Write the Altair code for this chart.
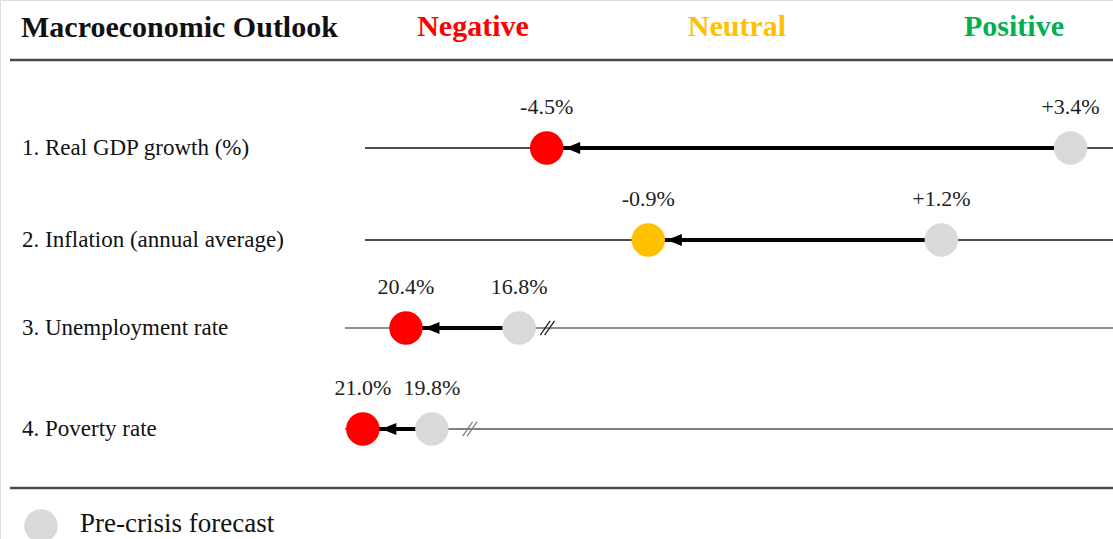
import altair as alt
import pandas as pd

# Indicators and forecasts (pre-crisis vs. current)
indicators = [
    "1. Real GDP growth (%)",
    "2. Inflation (annual  average)",
    "3. Unemployment  rate",
    "4. Poverty rate",
]
pre_crisis = [3.4, 1.2, 16.8, 19.8]
current = [-4.5, -0.9, 20.4, 21.0]
pre_text = ["+3.4%", "+1.2%", "16.8%", "19.8%"]
current_text = ["-4.5%", "-0.9%", "20.4%", "21.0%"]
assessment = ["Negative", "Neutral", "Negative", "Negative"]

# Values at the left and right ends of each row's track (rates run right-to-left)
track_start = [-7.24, -2.93, 22.34, 21.31]
track_end = [4.04, 2.43, -2.1, 7.96]
# Where the broken axis is marked on the rate rows
axis_break = [None, None, 15.9, 19.14]

header_title = "Macroeconomic Outlook"
header_words = ["Negative", "Neutral", "Positive"]
legend_text = "Pre-crisis forecast"

# ---- styling / layout ----
FONT = "Liberation Serif"
OUTLOOK_COLORS = {"Negative": "#FF0000", "Neutral": "#FFC000", "Positive": "#00B050"}
HEADER_X = {"Negative": 473, "Neutral": 737, "Positive": 1014}
GRAY = "#D9D9D9"
ROW_Y = [148, 240, 328, 429]
TRACK_PX = [(365, 1113), (365, 1113), (345, 1113), (345, 1113)]
TRACK_STYLE = [
    {"color": "#111111", "strokeWidth": 1.3},
    {"color": "#111111", "strokeWidth": 1.3},
    {"color": "#222222", "strokeWidth": 1.2},
    {"color": "#808080", "strokeWidth": 2},
]
DOT_SIZE = 1120
BREAK_SHAPE = "M-0.65,0.65L0.25,-0.65M-0.25,0.65L0.65,-0.65"
HEAD_SHAPE = "M-1,0L1,-0.8L1,0.8Z"
W, H = 1113, 539


def row_layer(i):
    df = pd.DataFrame(
        {
            "indicator": [indicators[i]],
            "pre": [pre_crisis[i]],
            "cur": [current[i]],
            "pre_label": [pre_text[i]],
            "cur_label": [current_text[i]],
            "lo": [track_start[i]],
            "hi": [track_end[i]],
            "brk": [axis_break[i]],
        }
    )
    xs = alt.Scale(
        domain=[track_start[i], track_end[i]],
        range=list(TRACK_PX[i]),
        zero=False,
        nice=False,
    )
    y = alt.value(ROW_Y[i])
    base = alt.Chart(df)

    def X(field):
        return alt.X(f"{field}:Q", scale=xs, axis=None)

    layers = [
        base.mark_rule(**TRACK_STYLE[i]).encode(x=X("lo"), x2="hi", y=y),
    ]
    if axis_break[i] is not None:
        layers.append(
            base.mark_point(
                shape=BREAK_SHAPE, filled=False, size=484, opacity=1,
                color=TRACK_STYLE[i]["color"], strokeWidth=1.3,
            ).encode(x=X("brk"), y=y)
        )
    layers += [
        base.mark_rule(color="black", strokeWidth=4).encode(x=X("pre"), x2="cur", y=y),
        base.mark_circle(size=DOT_SIZE, opacity=1, color=GRAY).encode(x=X("pre"), y=y),
        base.mark_circle(
            size=DOT_SIZE, opacity=1, color=OUTLOOK_COLORS[assessment[i]]
        ).encode(x=X("cur"), y=y),
        base.mark_point(
            shape=HEAD_SHAPE, filled=True, size=225, opacity=1, color="black",
            xOffset=26, strokeWidth=0,
        ).encode(x=X("cur"), y=y),
        base.mark_text(font=FONT, fontSize=22, color="#222222", baseline="middle").encode(
            x=X("pre"), y=alt.value(ROW_Y[i] - 41), text="pre_label:N"
        ),
        base.mark_text(font=FONT, fontSize=22, color="#222222", baseline="middle").encode(
            x=X("cur"), y=alt.value(ROW_Y[i] - 41), text="cur_label:N"
        ),
        base.mark_text(
            font=FONT, fontSize=23, color="#111111", align="left", baseline="middle"
        ).encode(x=alt.value(22), y=y, text="indicator:N"),
    ]
    return alt.layer(*layers)


# Header, separators and legend
head_df = pd.DataFrame({"title": [header_title], "legend": [legend_text]})
head = alt.Chart(head_df)
static = [
    head.mark_text(
        font=FONT, fontSize=30, fontWeight="bold", color="#111111",
        align="left", baseline="middle",
    ).encode(x=alt.value(21), y=alt.value(28), text="title:N"),
    head.mark_rule(color="#4a4a4a", strokeWidth=2.5).encode(
        x=alt.value(10), x2=alt.value(W), y=alt.value(60)
    ),
    head.mark_rule(color="#4a4a4a", strokeWidth=2.5).encode(
        x=alt.value(10), x2=alt.value(W), y=alt.value(488)
    ),
    head.mark_circle(size=DOT_SIZE, opacity=1, color=GRAY).encode(
        x=alt.value(41), y=alt.value(526)
    ),
    head.mark_text(
        font=FONT, fontSize=27, color="#111111", align="left", baseline="middle"
    ).encode(x=alt.value(80), y=alt.value(524), text="legend:N"),
]
for word in header_words:
    wdf = pd.DataFrame({"word": [word]})
    static.append(
        alt.Chart(wdf).mark_text(
            font=FONT, fontSize=30, fontWeight="bold",
            color=OUTLOOK_COLORS[word], baseline="middle",
        ).encode(x=alt.value(HEADER_X[word]), y=alt.value(27), text="word:N")
    )

chart = (
    alt.layer(*[row_layer(i) for i in range(len(indicators))], *static)
    .resolve_scale(x="independent")
    .properties(width=W, height=H, padding=0, autosize=alt.AutoSizeParams(type="none"))
    .configure_view(stroke=None)
    .configure(background="white")
)

chart.save("out.html", embed_options={"renderer": "svg", "actions": False})
